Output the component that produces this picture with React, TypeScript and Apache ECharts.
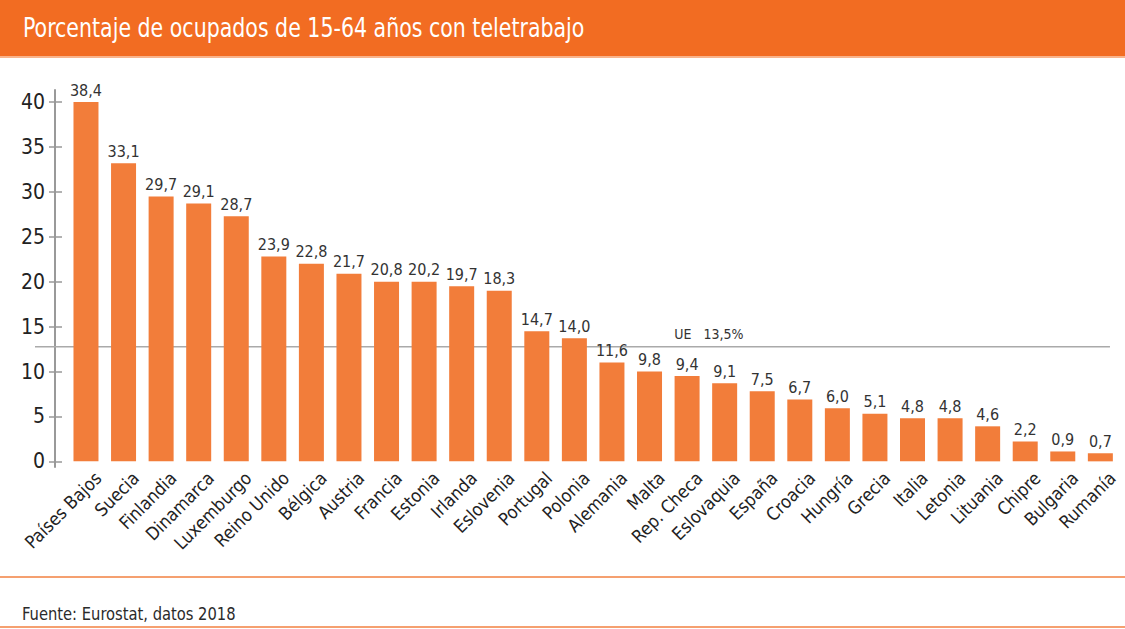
import React, { useEffect, useRef } from "react";
import * as echarts from "echarts";

const countries = [
  "Países Bajos", "Suecia", "Finlandia", "Dinamarca", "Luxemburgo", "Reino Unido",
  "Bélgica", "Austria", "Francia", "Estonia", "Irlanda", "Eslovenia", "Portugal",
  "Polonia", "Alemania", "Malta", "Rep. Checa", "Eslovaquia", "España", "Croacia",
  "Hungría", "Grecia", "Italia", "Letonia", "Lituania", "Chipre", "Bulgaria", "Rumanía",
];
// bar heights as drawn in the picture
const barHeights = [
  40.0, 33.2, 29.5, 28.7, 27.3, 22.8, 22.0, 20.9, 20.0, 20.0, 19.5, 19.0, 14.5,
  13.7, 11.0, 10.0, 9.5, 8.7, 7.8, 6.9, 5.9, 5.3, 4.8, 4.8, 3.9, 2.2, 1.1, 0.9,
];
// values printed above the bars
const valueLabels = [
  38.4, 33.1, 29.7, 29.1, 28.7, 23.9, 22.8, 21.7, 20.8, 20.2, 19.7, 18.3, 14.7,
  14.0, 11.6, 9.8, 9.4, 9.1, 7.5, 6.7, 6.0, 5.1, 4.8, 4.8, 4.6, 2.2, 0.9, 0.7,
];
const yTicks = [0, 5, 10, 15, 20, 25, 30, 35, 40];
const euLineValue = 12.75;
const euLineSpan = [-1.357, 27.256];
const euLabel = "UE   13,5%";
const euLabelAt = 16.58;

const TITLE = "Porcentaje de ocupados de 15-64 años con teletrabajo";
const SOURCE = "Fuente: Eurostat, datos 2018";

const FONT = "'DejaVu Sans Condensed', 'Noto Sans', sans-serif";
const fmt = (v: number) => v.toFixed(1).replace(".", ",");
const LABEL_SHIFT = 0.32;

export default function App() {
  const ref = useRef<HTMLDivElement>(null);
  useEffect(() => {
    document.body.style.margin = "0";
    const chart = echarts.init(ref.current!, null, { renderer: "svg" });
    const barData = barHeights.map((h, i) => [i, h]);
    const labelPositions = countries.map((_, i) => i + LABEL_SHIFT);
    const euLineData = euLineSpan.map((x) => [x, euLineValue]);
    chart.setOption({
      animation: false,
      backgroundColor: "#ffffff",
      textStyle: { fontFamily: FONT },
      graphic: [
        { type: "rect", left: 0, top: 0, z: -10, shape: { width: 1125, height: 56 }, style: { fill: "#F26C22" } },
        { type: "rect", left: 0, top: 56, z: -10, shape: { width: 1125, height: 2 }, style: { fill: "#F9B48C" } },
        {
          type: "text", x: 23, y: 28, scaleX: 0.846,
          style: { text: TITLE, fill: "#ffffff", fontSize: 27, fontFamily: FONT, verticalAlign: "middle" },
        },
        { type: "line", shape: { x1: 0, y1: 577, x2: 1125, y2: 577 }, style: { stroke: "#F5A070", lineWidth: 2 } },
        { type: "line", shape: { x1: 0, y1: 627, x2: 1125, y2: 627 }, style: { stroke: "#F5A070", lineWidth: 2 } },
        {
          type: "text", x: 22, y: 614, scaleX: 0.91,
          style: { text: SOURCE, fill: "#2b2b2b", fontSize: 18, fontFamily: FONT, verticalAlign: "middle" },
        },
      ],
      grid: { left: 35, right: 5, top: 90, bottom: 162, containLabel: false },
      xAxis: {
        type: "value",
        min: -1.357,
        max: 27.523,
        splitLine: { show: false },
        axisLine: { show: false },
        axisTick: { show: false },
        axisLabel: {
          customValues: labelPositions,
          formatter: (v: number) => countries[Math.round(v - LABEL_SHIFT)] ?? "",
          rotate: 45,
          margin: 8,
          fontSize: 18,
          color: "#222222",
          fontFamily: FONT,
        },
      },
      yAxis: [
        {
          type: "value",
          min: -0.63,
          max: 41.35,
          offset: -20,
          splitLine: { show: false },
          axisLine: { show: true, onZero: false, lineStyle: { color: "#999999", width: 2 } },
          axisTick: { show: true, length: 6, customValues: yTicks, lineStyle: { color: "#999999", width: 1.5 } },
          axisLabel: { customValues: yTicks, fontSize: 21, color: "#222222", margin: 10, fontFamily: FONT },
        },
        {
          type: "value",
          position: "left",
          min: -0.63,
          max: 41.35,
          offset: -20,
          splitLine: { show: false },
          axisLine: { show: false, onZero: false },
          axisTick: { show: true, inside: true, length: 7, customValues: yTicks, lineStyle: { color: "#999999", width: 1.5 } },
          axisLabel: { show: false },
        },
      ],
      series: [
        {
          type: "line",
          data: euLineData,
          silent: true,
          symbol: "none",
          z: 1,
          lineStyle: { color: "#AAAAAA", width: 1.5 },
          markPoint: {
            silent: true,
            symbol: "circle",
            symbolSize: 0,
            data: [{ coord: [euLabelAt, euLineValue] }],
            label: {
              show: true,
              position: "top",
              distance: 6,
              formatter: euLabel,
              fontSize: 14,
              color: "#333333",
              fontFamily: FONT,
            },
          },
        },
        {
          type: "bar",
          data: barData,
          barWidth: 25,
          z: 2,
          itemStyle: { color: "#F27D3A" },
          label: {
            show: true,
            position: "top",
            distance: 4,
            fontSize: 16,
            color: "#333333",
            fontFamily: FONT,
            formatter: (p: any) => fmt(valueLabels[p.dataIndex]),
          },
        },
      ],
    });
    return () => chart.dispose();
  }, []);
  return (
    <div
      ref={ref}
      style={{ position: "fixed", left: 0, top: 0, width: 1125, height: 629 }}
    />
  );
}
